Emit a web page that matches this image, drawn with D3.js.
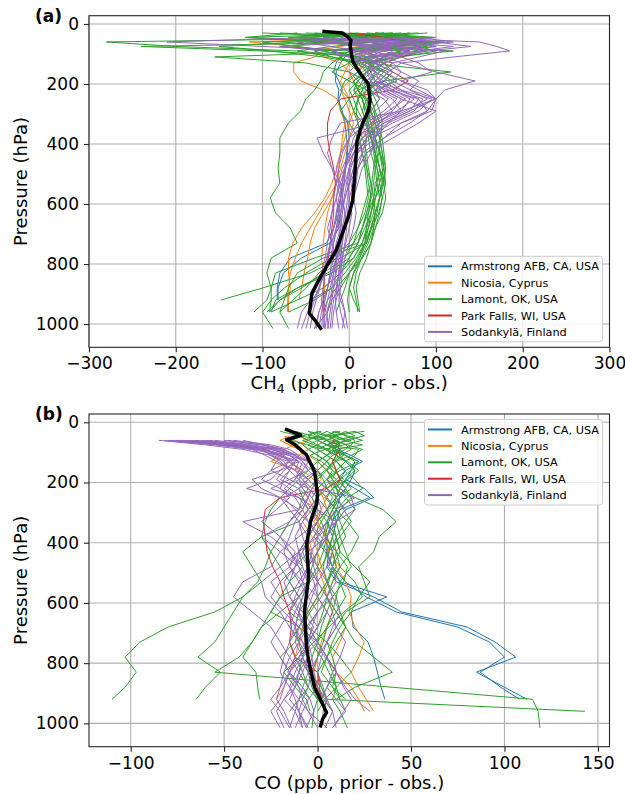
<!DOCTYPE html>
<html>
<head>
<meta charset="utf-8">
<script src="https://cdn.jsdelivr.net/npm/d3@7"></script>
<style>
  body { margin: 0; background: #fff; }
  svg { display: block; font-family: "DejaVu Sans", sans-serif; }
</style>
</head>
<body>
<div id="chart"></div>
<script>
// pressure levels (hPa) shared by every profile
const PLEV = [30, 45, 60, 75, 90, 110, 130, 160, 190,
  220, 250, 290, 330, 380, 430, 480, 530, 580,
  630, 680, 730, 780, 830, 880, 920, 960, 1015];

const SITES = ['Armstrong AFB, CA, USA', 'Nicosia, Cyprus', 'Lamont, OK, USA',
  'Park Falls, WI, USA', 'Sodankylä, Finland'];
const SITE_COLORS = ['#1f77b4', '#ff7f0e', '#2ca02c', '#d62728', '#9467bd'];

// ---- CH4 (ppb, prior - obs.) ----
const CH4_ARMSTRONG = [
  [null, 60, 90, 40, 10, -5, -10, -15, -16, -12, -13, -8, -5, -3, -2, -4, -6, -8, -10, -12, -22, -55, -76, -82, -82, null, null],
  [null, 40, 70, 20, 0, -10, -15, -18, -12, -8, -12, -10, -2, 0, -3, -5, -8, -10, -12, -18, -26, -68, -80, -83, -83, null, null]
];
const CH4_NICOSIA = [
  [-20, 30, -115, -60, -30, -40, -64, -64, -56, -30, -14, -10, -5, -8, -10, -12, -14, -25, -35, -45, -55, -62, -68, -70, -71, -71, null],
  [10, 50, 20, -10, -40, -30, -10, 0, 5, 10, 20, 25, 28, 15, 5, -5, -15, -20, -30, -40, -45, -48, -52, -55, -58, null, null],
  [null, -60, -20, 10, 30, 20, 0, -5, -10, -5, 0, 5, 0, -5, -10, -14, -20, -28, -40, -55, -65, -70, -70, -68, -70, -70, null],
  [30, 80, 60, 40, 10, 20, 15, 10, 0, -10, -5, 0, 5, 0, -5, -10, -15, -20, -25, -28, -30, -32, -30, -28, -30, -32, null]
];
const CH4_LAMONT = [
  [40, -50, 20, 60, -20, -10, -20, -30, -33, -40, -50, -56, -70, -80, -80, -82, -80, -91, -85, -68, -60, -90, -95, -90, -95, -110, null],
  [30, 80, -280, -200, -60, -20, 10, 20, 5, 10, 15, 20, 25, 30, 32, 35, 38, 35, 30, 25, 20, -10, -45, -100, -148, null, null],
  [60, -30, 40, -240, -100, 30, 20, 40, 30, 20, 25, 30, 35, 30, 35, 40, 30, 28, 25, 20, 15, 5, -20, -60, -85, -90, null],
  [-40, 50, 70, 100, 40, -155, -50, 0, 20, 30, 35, 25, 20, 25, 28, 32, 35, 38, 35, 30, 25, 15, 0, -15, -25, -30, null],
  [80, -60, 100, 30, 120, 50, 20, 117, 40, 20, 10, 15, 20, 22, 25, 30, 28, 25, 22, 20, 18, 12, 5, 0, 5, 12, null],
  [-80, 40, 90, 50, 10, -10, 0, 10, 20, 15, 10, 5, 15, 20, 18, 20, 22, 25, 20, 15, 10, -40, -85, -90, -90, -92, null],
  [20, 100, -100, -60, -20, 5, 30, 50, 40, 10, 0, -10, 0, 10, 15, 20, 25, 20, 15, 10, 0, -20, -50, -75, -90, -100, -88],
  [50, -120, -30, 20, 60, 40, 30, 20, 10, 0, 5, 10, 18, 25, 30, 35, 40, 30, 25, 18, 10, 0, -10, -20, -40, -70, null],
  [-50, 60, 30, -20, -60, 10, 40, 30, 25, 15, 20, 25, 30, 35, 38, 40, 35, 30, 25, 22, 18, 10, 0, -5, -10, -15, null],
  [10, -70, 50, 90, 20, 30, 50, 35, 20, 5, 10, 8, 10, 15, 20, 22, 25, 28, 30, 25, 20, -30, -60, -70, -75, -80, null],
  [70, 30, -40, 80, 100, 60, 20, 10, -5, -10, 0, 5, 10, 12, 15, 18, 20, 22, 18, 10, 5, -5, -30, -55, -80, -95, null],
  [-10, 90, 60, 20, -30, 0, 15, 25, 15, 10, 20, 28, 32, 38, 40, 42, 38, 35, 30, 28, 25, 20, 12, 8, 10, 12, null],
  [40, 10, -60, -150, -90, -30, 10, 40, 55, 30, 20, 15, 20, 25, 30, 35, 32, 28, 22, 15, 5, -15, -35, -50, -65, -80, -70],
  [-30, 70, 20, 50, 80, 30, 0, -20, 0, 20, 25, 30, 28, 30, 35, 38, 40, 42, 38, 30, 25, 15, 5, 0, -2, 0, null],
  [-100, 20, 110, 40, -20, 10, 30, 15, 5, 10, 18, 22, 25, 28, 30, 32, 35, 30, 28, 22, 15, 5, -10, -30, -60, -90, null],
  [90, 20, -50, 30, 70, 20, 5, 30, 50, 35, 20, 25, 30, 35, 38, 42, 40, 35, 30, 25, 18, 8, -5, -20, -45, null, null],
  [-60, -120, 40, 60, 20, 0, 25, 20, 10, 5, 15, 20, 22, 26, 30, 28, 26, 24, 20, 15, 10, 0, -25, -60, -80, -92, null],
  [30, 60, -20, -80, 10, 40, 35, 25, 30, 25, 30, 35, 38, 36, 34, 30, 32, 35, 32, 28, 22, 14, 8, 5, 8, 10, null],
  [50, 0, 80, 30, -40, -20, 20, 45, 35, 20, 15, 18, 22, 30, 36, 40, 42, 38, 34, 26, 20, 12, 0, -10, -20, -25, -40]
];
const CH4_PARKFALLS = [
  [0, 40, 60, 80, 85, 60, 40, 50, 68, 50, -10, -22, -25, -25, -22, -18, -16, -18, -18, -20, -22, -24, -28, -30, -30, -28, null]
];
const CH4_SODANKYLA = [
  [null, 20, 150, 170, 185, 120, 60, 100, 145, 110, 100, 90, 60, 40, 20, 10, 0, -5, -10, -15, -20, -25, -30, -35, -40, -45, -50],
  [null, -40, -210, -100, 20, 60, 80, 95, 60, 80, 100, 70, 40, 30, 25, 15, 10, 5, 0, -5, -10, -15, -20, -25, -30, -35, -40],
  [null, 60, 100, 80, 40, 20, 30, 40, 30, 60, 95, 80, 50, 20, 10, 5, 0, -5, -8, -10, -15, -18, -22, -25, -28, -32, -35],
  [null, 10, -60, -20, 10, 30, 40, 20, 30, 50, 70, 60, 30, -37, -30, -20, -10, -15, -20, -25, -20, -15, -18, -20, -22, -25, -28],
  [null, 80, 120, 60, 30, 10, 20, 30, 20, 40, 60, 100, 80, 50, 20, 10, 5, 0, -2, -5, -8, -10, -12, -15, -10, -5, -8],
  [null, -20, 40, 100, 60, 20, 10, 0, 10, 20, 40, 50, 35, 20, 15, 10, 8, 5, 0, -5, -10, -12, -15, -18, -20, -22, -25],
  [null, 40, 20, -80, -30, 0, 30, 50, 40, 30, 50, 60, 45, 30, 10, 0, -5, -10, -15, -12, -10, -8, -10, -12, -15, -18, -20],
  [null, -60, 80, 40, 0, 20, 50, 60, 50, 70, 100, 95, 60, 25, 5, -5, -8, -12, -15, -18, -22, -25, -28, -30, -32, -30, -28],
  [null, 30, 60, 20, -20, 0, 10, 20, 25, 35, 55, 40, 20, 0, -10, -15, -12, -8, -5, -8, -10, -14, -18, -22, -25, -28, -30],
  [null, 90, 60, 30, 50, 40, 20, 10, 20, 45, 80, 70, 40, 15, 5, 0, 2, 5, 8, 5, 0, -5, -8, -10, -12, -10, -5],
  [null, 10, -30, 20, 70, 50, 30, 40, 60, 90, 100, 60, -10, -20, -25, -20, -15, -10, -8, -10, -12, -15, -20, -25, -30, -35, -38],
  [null, 50, 100, 140, 90, 40, 25, 30, 35, 50, 75, 55, 30, 10, 0, -5, -10, -8, -5, -3, -5, -8, -10, -12, -8, -5, -2],
  [null, -10, 30, 50, 20, 10, 20, 35, 25, 30, 45, 30, 15, 5, 0, -5, -8, -10, -12, -15, -18, -22, -28, -35, -42, -48, -55],
  [null, 70, 50, 10, 40, 60, 40, 20, 15, 25, 35, 25, 10, 0, -8, -12, -15, -18, -20, -22, -25, -28, -32, -38, -45, -55, -60],
  [null, 100, 60, 120, 80, 30, 40, 60, 80, 70, 90, 65, 35, 15, 5, 0, -3, -6, -10, -14, -18, -20, -22, -25, -28, -30, -32],
  [null, -30, 20, 60, 90, 50, 30, 20, 40, 55, 85, 75, 45, 20, 8, 2, -2, 0, 3, 0, -4, -8, -12, -15, -18, -20, -22],
  [null, 30, -20, 40, 110, 80, 50, 40, 30, 40, 60, 50, 25, 10, 0, -8, -12, -15, -12, -8, -10, -14, -16, -18, -22, -26, -24],
  [null, 0, 70, 30, 10, 40, 60, 45, 35, 45, 65, 45, 25, 10, 2, -4, -6, -10, -14, -18, -22, -26, -30, -34, -38, -42, -45],
  [null, 60, 90, 60, 20, 0, 15, 30, 45, 60, 80, 90, 70, 40, 15, 5, 0, -2, -4, -6, -8, -10, -12, -14, -16, -15, -12]
];
const CH4_MEAN_X = [-29, -8, -1, 2, 1, 4, 13, 22, 24, 22, 15, 9, 7, 4, -1, -8, -15, -24, -33, -43, -46, -40, -33];
const CH4_MEAN_P = [25, 30, 45, 55, 70, 125, 166, 200, 256, 290, 334, 389, 478, 588, 643, 698, 754, 798, 842, 897, 964, 986, 1014];

// ---- CO (ppb, prior - obs.) ----
const CO_ARMSTRONG = [
  [null, null, 5, 8, 12, 15, 22, 18, 15, 25, 30, 15, 10, 8, 6, 5, 10, 30, 45, 80, 95, 106, 85, 100, 112, null, null],
  [null, null, 0, 5, 10, 18, 24, 15, 12, 20, 28, 12, 8, 5, 5, 8, 15, 26, 42, 75, 92, 100, 87, 98, 108, null, null],
  [null, null, 10, 12, 8, 10, 15, 20, 18, 15, 12, 10, 8, 10, 8, 6, 12, 37, 18, 19, 27, 30, 32, 34, 36, null, null]
];
const CO_NICOSIA = [
  [null, -18, -12, -8, -5, -10, -15, -8, -2, 0, 5, 2, -2, 5, 8, 10, 15, 18, 17, 20, 25, 22, 18, 22, 26, 30, null],
  [null, -15, -20, -15, -10, -5, 0, 5, 8, 3, 0, -5, -8, -3, 0, 2, 5, 0, -5, -8, -10, -12, -15, -18, -22, null, null],
  [null, -10, -5, -12, -18, -20, -25, -10, -5, 0, 3, 5, 0, 4, 6, 12, 8, 5, 10, 15, 12, 8, 10, 18, 22, 25, null],
  [null, null, -20, -15, -10, -8, -5, 0, 2, -3, -5, -2, 0, -5, -3, 0, 3, 5, 8, 5, 2, 0, -2, 0, 2, 5, null]
];
const CO_LAMONT = [
  [10, 5, 0, -5, 0, 5, 10, 5, 0, -5, -8, -10, -15, -20, -25, -28, -32, -40, -55, -80, -95, -103, -97, -103, -110, null, null],
  [5, 10, 15, 10, 8, 5, 0, -5, -10, -15, -20, -25, -28, -30, -40, -35, -30, -40, -45, -50, -55, -64, -52, -60, -65, null, null],
  [15, 20, 10, 5, 10, 12, 15, 10, 5, 8, 10, 5, 0, -5, -10, -8, -15, -20, -25, -30, -35, -42, -55, 40, 115, 118, 119],
  [0, 5, 10, 15, 18, 12, 8, 10, 12, 15, 10, 8, 5, 8, 10, 12, 8, 5, 10, 15, 10, 5, 0, 2, 5, 143, null],
  [20, 25, 15, 10, 5, 10, 15, 20, 15, 12, 20, 35, 42, 33, 30, 22, 25, 28, 15, 10, 5, 8, 10, 5, 2, null, null],
  [-5, 0, 5, 8, 10, 5, 0, 5, 8, 10, 12, 8, 5, 10, 12, 8, 5, 10, 12, 15, 20, 30, 40, 20, 10, null, null],
  [null, -10, -5, 0, 5, 8, 5, 0, -5, -10, -8, -5, -10, -30, -25, -20, -15, -10, -20, -30, -35, -40, -33, -32, -31, null, null],
  [25, 8, 18, 4, 22, 20, 15, 10, 12, 8, 5, 10, 12, 15, 10, 8, 12, 15, 10, 5, 0, 5, 8, 10, 12, 15, null],
  [-5, 5, 10, 5, 0, 5, 10, 15, 10, 5, 8, 5, 0, -5, -8, -5, 0, 5, 3, 0, -5, -8, -10, -5, 0, 5, null],
  [10, 15, 20, 18, 15, 8, 5, 0, 3, 5, 0, -3, 2, 5, 8, 10, 5, 0, -5, -10, -15, -12, -8, -5, -10, -15, null],
  [0, -5, 0, 5, 10, 15, 20, 18, 12, 10, 12, 8, 10, 12, 15, 18, 12, 10, 8, 5, 3, 0, -3, 0, 3, 8, null],
  [15, 10, 5, 0, -5, 0, 5, 10, 8, 12, 10, 5, 8, 5, 3, 0, -5, -20, -25, -10, 0, 5, 10, 8, 12, null, null],
  [20, 6, 14, 24, 10, 10, 8, 5, 10, 15, 18, 12, 10, 8, 5, 3, 5, 8, 5, 2, 0, -3, -5, 2, 5, 3, null],
  [5, 0, -5, -8, -5, 0, 5, 8, 5, 0, -3, 0, 5, 3, 0, -3, -5, -8, -10, -12, -10, -8, -5, -3, 0, -2, -3],
  [-20, -10, 5, 12, 8, 15, 22, 12, 5, 10, 15, 20, 15, 10, 12, 20, 28, 22, 18, 12, 8, 5, 2, 8, 15, null, null],
  [12, 3, -8, -2, 6, 14, 9, 4, -2, 5, 10, 14, 18, 12, 6, 2, -4, -10, -15, -5, 5, 12, 18, 10, 4, 0, null],
  [-12, -3, 8, 16, 24, 18, 10, 14, 20, 24, 16, 10, 6, 4, 10, 16, 14, 8, 0, -6, -12, -20, -15, -8, -4, null, null],
  [8, 16, 24, 14, 4, -4, 2, 8, 14, 18, 12, 6, 2, -2, 4, 8, 6, 2, -4, -8, -4, 2, 6, 10, 8, 12, 16],
  [2, -8, -14, -6, 4, 10, 16, 22, 16, 8, 4, 10, 16, 22, 18, 12, 20, 24, 14, 6, -2, -10, -18, -12, -6, -4, null]
];
const CO_PARKFALLS = [
  [null, null, 8, 10, 12, 10, 8, 10, 12, 5, -20, -28, -29, -28, -27, -24, -20, -18, -15, -14, -15, -12, 0, 1, 2, null, null]
];
const CO_SODANKYLA = [
  [null, null, -85, -60, -40, -25, -18, -15, -20, -10, -5, -8, -15, -30, -20, -10, -5, -8, -12, -15, -10, -5, -8, -12, -18, -22, -18],
  [null, null, -80, -55, -35, -20, -10, -5, -15, -25, -10, -5, 0, -10, -20, -25, -40, -45, -35, -25, -20, -15, -10, -12, -15, -10, -5],
  [null, null, -70, -50, -30, -15, -5, 0, -8, -5, 0, 5, 8, 5, 0, -5, -10, -15, -10, -5, 0, 5, 10, 15, 20, 28, null],
  [null, null, -75, -45, -25, -12, -8, -10, -5, 0, 5, 10, 5, -2, -8, -12, -15, -10, -5, 0, -5, -10, -15, -18, -20, -25, -20],
  [null, null, -60, -40, -28, -20, -15, -20, -25, -38, -20, -10, -15, -20, -15, -8, -5, -10, -15, -20, -25, -20, -15, -10, -8, -5, 0],
  [null, null, -55, -35, -20, -10, -5, -8, -10, -5, 0, 2, 0, -5, -10, -5, 0, 5, 8, 10, 5, 0, -5, -8, -10, -5, 5],
  [null, null, -65, -45, -30, -25, -20, -15, -10, -8, -5, -10, -40, -25, -15, -10, -8, -5, -10, -12, -15, -18, -20, -15, -10, -12, -15],
  [null, null, -50, -30, -18, -12, -8, -5, 0, 5, 10, 15, 10, 5, 0, -5, -2, 0, 5, 10, 15, 12, 8, 5, 10, 15, 8],
  [null, null, -78, -50, -32, -22, -12, -18, -22, -15, -8, -3, -8, -12, -10, -12, -20, -25, -18, -10, -5, -3, -2, 0, -5, -8, -12],
  [null, null, -45, -25, -15, -10, -12, -15, -18, -20, -12, -8, -5, 0, 5, 8, 10, 5, 0, -3, -5, -8, -12, -15, -12, -10, -8],
  [null, null, -68, -42, -25, -15, -10, -12, -8, -3, 20, 10, 5, 0, -3, -5, -8, -12, -15, -12, -8, -5, -3, -5, -8, -10, -6],
  [null, null, -58, -38, -22, -18, -22, -25, -15, -5, 0, -5, -10, -8, -5, 0, 5, 8, 12, 8, 5, 2, 0, 3, 5, 3, 2],
  [null, null, -40, -28, -18, -12, -8, -3, 0, -3, -5, -8, -12, -15, -18, -15, -10, -5, 0, -5, -10, -15, -18, -20, -22, -18, -14],
  [null, null, -72, -48, -28, -18, -14, -10, -12, -8, -3, 0, -3, -6, -4, -2, 0, -3, -6, -10, -12, -8, -4, 0, 4, 8, 10],
  [null, null, -82, -52, -30, -20, -15, -25, -30, -20, -15, -22, -30, -20, -12, -15, -25, -20, -12, -5, 0, -8, -15, -20, -25, -20, -15],
  [null, null, -62, -38, -22, -12, -5, 0, 5, 12, 18, 20, 10, 0, -10, -15, -8, 0, 5, 0, -5, -10, -5, 0, 5, 8, 4],
  [null, null, -48, -30, -20, -15, -10, -20, -35, -30, -20, -15, -10, -5, -10, -20, -30, -28, -20, -15, -8, -5, -10, -14, -18, -12, -8],
  [null, null, -76, -52, -35, -28, -22, -12, -5, -10, -18, -12, -5, 2, 8, 5, 0, -5, -10, -8, -2, 4, 10, 14, 18, 14, 8],
  [null, null, -66, -44, -30, -24, -16, -8, -12, -18, -10, 0, 10, 5, -5, -12, -18, -15, -8, -2, -6, -12, -16, -10, -4, -2, -6]
];
const CO_MEAN_X = [-16.6, -9, -16.6, -12, -6, -1.6, 0, -0.5, -3.7, -5.8, -4.8, -7, -6, -4.8, -1.6, 2.7, 4.8, 2.7, 1.6];
const CO_MEAN_P = [24, 43, 58, 75, 108, 163, 240, 272, 327, 405, 516, 627, 737, 792, 881, 936, 964, 986, 1008];

const P_TICKS = [0, 200, 400, 600, 800, 1000];
const CH4_TICKS = [-300, -200, -100, 0, 100, 200, 300];
const CO_TICKS = [-100, -50, 0, 50, 100, 150];

const W = 625, H = 794;
const svg = d3.select('#chart').append('svg').attr('width', W).attr('height', H);

function drawPanel({ id, top, bottom, xDomain, xTicks, groups, meanX, meanP, tag, xLabel, legendTop }) {
  const left = 89, right = 609.5;
  const x = d3.scaleLinear().domain(xDomain).range([left, right]);
  const y = d3.scaleLinear().domain([-27.5, 1077.5]).range([top, bottom]);

  const g = svg.append('g');

  // grid
  g.append('g').selectAll('line').data(xTicks).join('line')
    .attr('x1', d => x(d)).attr('x2', d => x(d)).attr('y1', top).attr('y2', bottom)
    .attr('stroke', '#b0b0b0').attr('stroke-width', 1.1);
  g.append('g').selectAll('line').data(P_TICKS).join('line')
    .attr('x1', left).attr('x2', right).attr('y1', d => y(d)).attr('y2', d => y(d))
    .attr('stroke', '#b0b0b0').attr('stroke-width', 1.1);

  g.append('clipPath').attr('id', id).append('rect')
    .attr('x', left).attr('y', top).attr('width', right - left).attr('height', bottom - top);
  const plot = g.append('g').attr('clip-path', `url(#${id})`);

  const line = d3.line()
    .defined(d => d[0] != null)
    .x(d => x(d[0])).y(d => y(d[1]));

  groups.forEach((profiles, i) => {
    plot.append('g').selectAll('path').data(profiles).join('path')
      .attr('d', prof => line(prof.map((v, k) => [v, PLEV[k]])))
      .attr('fill', 'none')
      .attr('stroke', SITE_COLORS[i])
      .attr('stroke-width', 1)
      .attr('stroke-linejoin', 'round');
  });

  plot.append('path')
    .attr('d', line(meanX.map((v, k) => [v, meanP[k]])))
    .attr('fill', 'none').attr('stroke', '#000').attr('stroke-width', 3.5)
    .attr('stroke-linejoin', 'round').attr('stroke-linecap', 'square');

  // frame
  g.append('rect').attr('x', left).attr('y', top).attr('width', right - left).attr('height', bottom - top)
    .attr('fill', 'none').attr('stroke', '#262626').attr('stroke-width', 1.1);

  // axes
  const ax = g.append('g').attr('transform', `translate(0,${bottom})`)
    .call(d3.axisBottom(x).tickValues(xTicks).tickSize(5).tickPadding(5));
  const ay = g.append('g').attr('transform', `translate(${left},0)`)
    .call(d3.axisLeft(y).tickValues(P_TICKS).tickFormat(d3.format('d')).tickSize(5).tickPadding(5));
  [ax, ay].forEach(a => {
    a.select('.domain').remove();
    a.selectAll('text').attr('font-size', 17).attr('fill', '#000').attr('font-family', 'DejaVu Sans');
    a.selectAll('line').attr('stroke', '#262626').attr('stroke-width', 1.1);
  });

  // labels
  const xl = g.append('text').attr('x', (left + right) / 2).attr('y', bottom + 42)
    .attr('text-anchor', 'middle').attr('font-size', 18);
  xLabel.forEach(part => {
    const t = xl.append('tspan').text(part.text);
    if (part.sub) t.attr('font-size', 12.5).attr('dy', 4);
    if (part.after) t.attr('dy', -4);
  });
  g.append('text').attr('transform', `translate(27,${(top + bottom) / 2}) rotate(-90)`)
    .attr('text-anchor', 'middle').attr('font-size', 18).text('Pressure (hPa)');
  g.append('text').attr('x', 35).attr('y', top + 6).attr('font-size', 17)
    .attr('font-weight', 'bold').text(tag);

  // legend
  const rowH = 16.4;
  const lg = g.append('g');
  lg.append('rect').attr('x', 424.5).attr('y', legendTop).attr('width', 178).attr('height', 85.5)
    .attr('rx', 3).attr('fill', '#fff').attr('fill-opacity', 0.8)
    .attr('stroke', '#cccccc').attr('stroke-width', 1);
  SITES.forEach((name, i) => {
    const cy = legendTop + 10 + i * rowH;
    lg.append('line').attr('x1', 428).attr('x2', 452).attr('y1', cy).attr('y2', cy)
      .attr('stroke', SITE_COLORS[i]).attr('stroke-width', 2);
    lg.append('text').attr('x', 461).attr('y', cy + 4).attr('font-size', 11.3).text(name);
  });
}

drawPanel({
  id: 'clipA', top: 15.7, bottom: 347.3, xDomain: [-300, 300], xTicks: CH4_TICKS,
  groups: [CH4_ARMSTRONG, CH4_NICOSIA, CH4_LAMONT, CH4_PARKFALLS, CH4_SODANKYLA],
  meanX: CH4_MEAN_X, meanP: CH4_MEAN_P, tag: '(a)',
  xLabel: [{ text: 'CH' }, { text: '4', sub: true }, { text: ' (ppb, prior - obs.)', after: true }],
  legendTop: 256.3
});

drawPanel({
  id: 'clipB', top: 414, bottom: 746.7, xDomain: [-122.3, 156.2], xTicks: CO_TICKS,
  groups: [CO_ARMSTRONG, CO_NICOSIA, CO_LAMONT, CO_PARKFALLS, CO_SODANKYLA],
  meanX: CO_MEAN_X, meanP: CO_MEAN_P, tag: '(b)',
  xLabel: [{ text: 'CO (ppb, prior - obs.)' }],
  legendTop: 419.5
});
</script>
</body>
</html>
